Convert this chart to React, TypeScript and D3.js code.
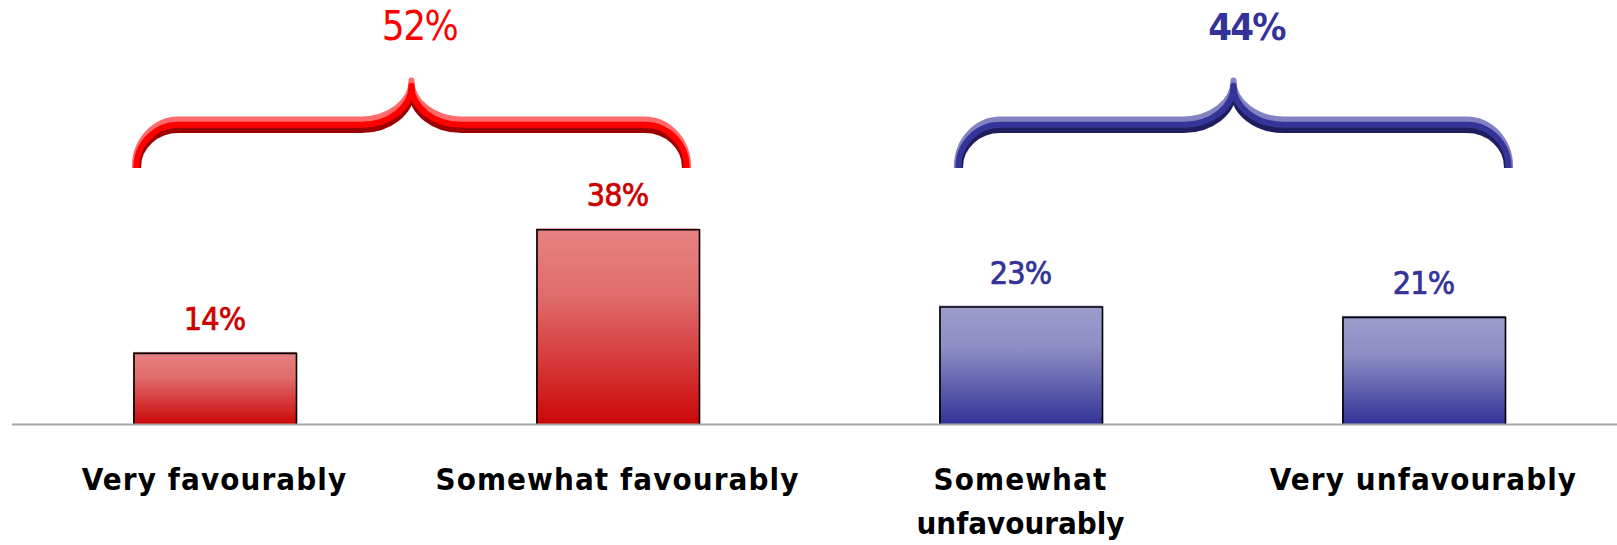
import React from "react";
import * as d3 from "d3";

const categories = ["Very favourably", "Somewhat favourably", "Somewhat unfavourably", "Very unfavourably"];
const categoryLines = [["Very favourably"], ["Somewhat favourably"], ["Somewhat", "unfavourably"], ["Very unfavourably"]];
const values = [14, 38, 23, 21];
const valueLabels = ["14%", "38%", "23%", "21%"];
const categoryGroup = [0, 0, 1, 1];
const groupNames = ["Favourable", "Unfavourable"];
const groupTotals = [52, 44];
const groupTotalLabels = ["52%", "44%"];
const groupMembers = [[0, 1], [2, 3]];

const W = 1617;
const H = 545;

const theme = [
  {
    gradTop: "#e88282", gradMid: "#e06c6c", gradBot: "#cb0808",
    text: "#cc0000", total: "#ff0000", totalWeight: 400, totalSize: 40, totalSpacing: -1.5,
    braceLight: "#ff6a6a", braceMid: "#ff0000", braceDark: "#9c0000",
    padL: -78, padR: 69, labelDx: 8,
  },
  {
    gradTop: "#9c9cce", gradMid: "#8e8ec4", gradBot: "#333399",
    text: "#333399", total: "#333399", totalWeight: 700, totalSize: 38, totalSpacing: -1.8,
    braceLight: "#8282c2", braceMid: "#343499", braceDark: "#1e1e5e",
    padL: -62, padR: 85, labelDx: 13,
  },
];

// brace centre-line offset by d (positive = outward/up); ends taper
function bracePath(x0: number, x1: number, xc: number, yEnd: number, yH: number, R: number, rx: number, ry: number, d: number) {
  const dE = d * 0.3;
  const ex = R + dE;
  const ey = R + d;
  let s = `M${x0 - dE},${yEnd} L${x0 - dE},${yH + R} A${ex},${ey} 0 0 1 ${x0 + R},${yH - d}`;
  s += ` L${xc - rx},${yH - d} A${rx},${ry} 0 0 0 ${xc},${yH - ry - d}`;
  s += ` A${rx},${ry} 0 0 0 ${xc + rx},${yH - d}`;
  s += ` L${x1 - R},${yH - d} A${ex},${ey} 0 0 1 ${x1 + dE},${yH + R} L${x1 + dE},${yEnd}`;
  return s;
}

export default function App() {
  const x = d3.scaleBand<string>().domain(categories).range([13, 1625]).paddingInner(0.5955).paddingOuter(0.29775);
  const y = d3.scaleLinear().domain([0, 40]).range([424, 218]);
  const bw = x.bandwidth();
  const fontStack = "'DejaVu Sans Condensed', 'DejaVu Sans', sans-serif";

  const yH = 124.7;
  const yEnd = 168;
  const R = 42;
  const rx = 50;
  const ry = 39;
  const off = 5.3;
  const sw = 6;

  return (
    <svg width={W} height={H} style={{ position: "absolute", left: 0, top: 0, background: "#fff" }} fontFamily={fontStack}>
      <defs>
        {theme.map((t, i) => (
          <linearGradient key={i} id={`grad${i}`} x1="0" y1="0" x2="0" y2="1">
            <stop offset="0" stopColor={t.gradTop} />
            <stop offset="0.35" stopColor={t.gradMid} />
            <stop offset="1" stopColor={t.gradBot} />
          </linearGradient>
        ))}
      </defs>

      {/* bars */}
      {categories.map((c, i) => {
        const g = categoryGroup[i];
        const x0 = x(c)!;
        const y0 = y(values[i]);
        return (
          <g key={c}>
            <rect x={x0} y={y0} width={bw} height={y(0) - y0} fill={`url(#grad${g})`} />
            <path d={`M${x0 + 1},${y(0)} L${x0 + 1},${y0 + 1.5} L${x0 + bw + 0.5},${y0 + 1.5} L${x0 + bw + 0.5},${y(0)}`} fill="none" stroke="#000" strokeWidth={1.6} />
            <text x={x0 + bw / 2} y={y0 - 22} textAnchor="middle" fontSize={32} fontWeight={400} letterSpacing={-0.8} fill={theme[g].text} stroke={theme[g].text} strokeWidth={0.7}>
              {valueLabels[i]}
            </text>
          </g>
        );
      })}

      {/* axis baseline */}
      <line x1={12} x2={W} y1={y(0) + 0.5} y2={y(0) + 0.5} stroke="#a6a6a6" strokeWidth={2} />

      {/* category labels */}
      {categories.map((c, i) => (
        <text key={c} x={x(c)! + bw / 2} y={490} textAnchor="middle" fontSize={31} fontWeight={700} letterSpacing={1.1} fill="#000">
          {categoryLines[i].map((ln, j) => (
            <tspan key={j} x={x(c)! + bw / 2} dy={j === 0 ? 0 : 44} letterSpacing={ln === "unfavourably" ? 0 : 1.1}>{ln}</tspan>
          ))}
        </text>
      ))}

      {/* group braces */}
      {groupNames.map((gname, gi) => {
        const t = theme[gi];
        const [a, b] = groupMembers[gi];
        const bx0 = x(categories[a])! + bw / 2 + t.padL;
        const bx1 = x(categories[b])! + bw / 2 + t.padR;
        const xc = (bx0 + bx1) / 2;
        return (
          <g key={gname} fill="none" strokeLinejoin="round">
            <path d={bracePath(bx0, bx1, xc, yEnd, yH, R, rx, ry, off)} stroke={t.braceLight} strokeWidth={sw} />
            <path d={bracePath(bx0, bx1, xc, yEnd, yH, R, rx, ry, -off)} stroke={t.braceDark} strokeWidth={sw} />
            <path d={bracePath(bx0, bx1, xc, yEnd, yH, R, rx, ry, 0)} stroke={t.braceMid} strokeWidth={sw} />
            <text x={xc + t.labelDx} y={40} textAnchor="middle" fontSize={t.totalSize} fontWeight={t.totalWeight} letterSpacing={t.totalSpacing} fill={t.total} stroke="none">
              {groupTotalLabels[gi]}
            </text>
          </g>
        );
      })}
    </svg>
  );
}
